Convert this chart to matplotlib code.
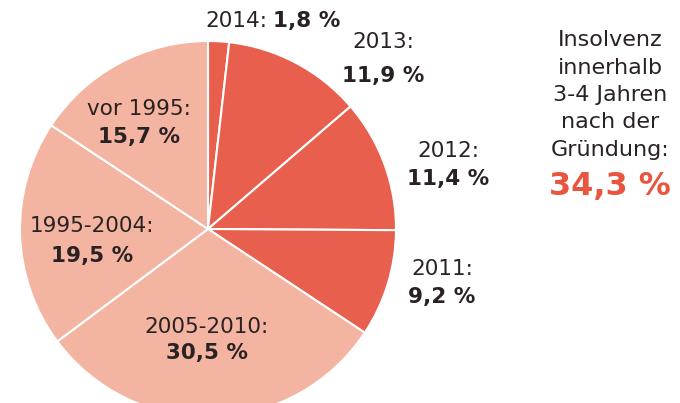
import matplotlib
matplotlib.use("Agg")
import matplotlib.pyplot as plt

# slices, clockwise from 12 o'clock
labels = ["2014", "2013", "2012", "2011", "2005-2010", "1995-2004", "vor 1995"]
shares = [1.8, 11.9, 11.4, 9.2, 30.5, 19.5, 15.7]
total_label = "34,3 %"
side_text = ["Insolvenz", "innerhalb", "3-4 Jahren", "nach der", "Gründung:"]

dark = "#e8604d"
light = "#f4b4a2"
colors = [dark] * 4 + [light] * 3

plt.rcParams["font.family"] = ["DejaVu Sans"]

fig = plt.figure(figsize=(6.8, 4.03), dpi=100)
ax = fig.add_axes([0, 0, 1, 1])

ax.pie(shares, colors=colors, startangle=-90, counterclock=True,
       center=(208, 229), radius=188, frame=True,
       wedgeprops=dict(edgecolor="white", linewidth=1.5))
ax.set_xlim(0, 680)
ax.set_ylim(403, 0)
ax.set_aspect("equal")
ax.axis("off")

fs = 15.5
dk = "#2a2222"

def fmt(v):
    return ("%.1f %%" % v).replace(".", ",")

# 2014 label sits on one line above the pie
ax.text(267, 27, labels[0] + ":", ha="right", va="baseline", fontsize=fs, color=dk)
ax.text(273, 27, fmt(shares[0]), ha="left", va="baseline", fontsize=fs,
        color=dk, fontweight="bold")

# (x centre, baseline of year line, baseline of value line)
pos = {"2013": (383, 48, 82), "2012": (448, 157, 185), "2011": (442, 275, 303),
       "2005-2010": (207, 333, 359), "1995-2004": (92, 232, 262),
       "vor 1995": (139, 115, 143)}
for lab, v in zip(labels[1:], shares[1:]):
    x, y1, y2 = pos[lab]
    ax.text(x, y1, lab + ":", ha="center", va="baseline", fontsize=fs, color=dk)
    ax.text(x, y2, fmt(v), ha="center", va="baseline", fontsize=fs,
            color=dk, fontweight="bold")

for i, s in enumerate(side_text):
    ax.text(610, 46 + i * 27.5, s, ha="center", va="baseline", fontsize=16, color=dk)
ax.text(610, 195, total_label, ha="center", va="baseline", fontsize=23,
        color="#e9553f", fontweight="bold")

fig.savefig("out.png", dpi=100)
